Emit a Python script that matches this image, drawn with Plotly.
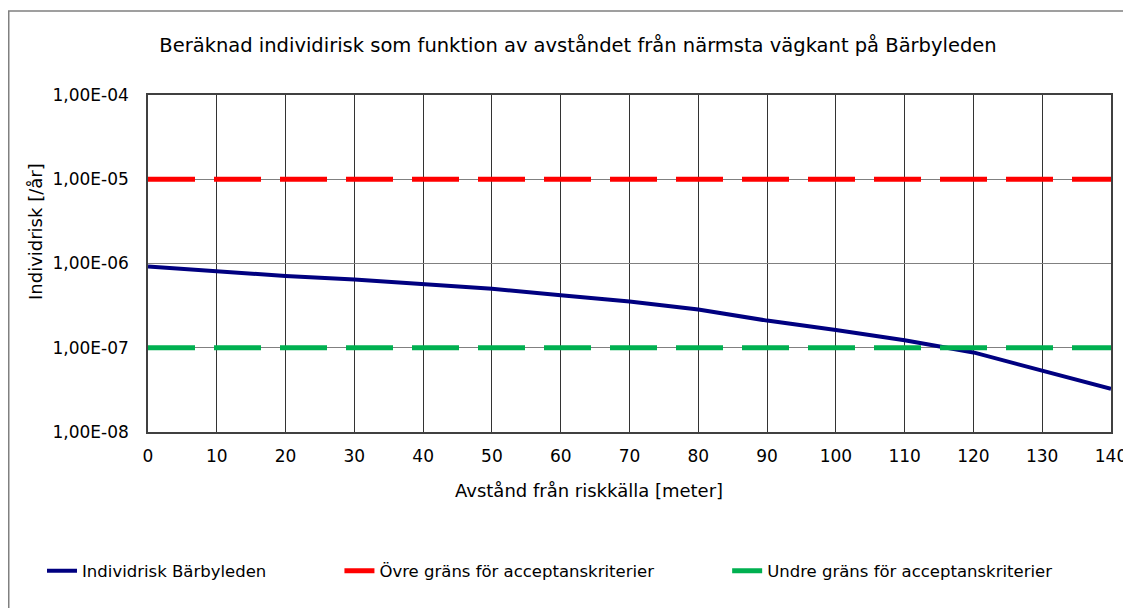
import plotly.graph_objects as go

# Data
distance_m = [0, 10, 20, 30, 40, 50, 60, 70, 80, 90, 100, 110, 120, 130, 140]
risk_barbyleden = [9.2e-7, 8.1e-7, 7.1e-7, 6.45e-7, 5.75e-7, 5.0e-7, 4.2e-7, 3.55e-7,
                   2.85e-7, 2.1e-7, 1.62e-7, 1.23e-7, 8.8e-8, 5.35e-8, 3.25e-8]
upper_limit = 1e-5
lower_limit = 1e-7
y_tickvals = [1e-8, 1e-7, 1e-6, 1e-5, 1e-4]
y_ticktext = ["1,00E-08", "1,00E-07", "1,00E-06", "1,00E-05", "1,00E-04"]
x_ticks = list(range(0, 141, 10))

FONT = "DejaVu Sans"
OFF = 8  # page body margin
W, H = 1131, 608
L, R, T, B = 148 - OFF, 1111 - OFF, 95 - OFF, 432 - OFF

def px(xs):
    return (xs - OFF - L) / (R - L)

def py(ys):
    return (B - (ys - OFF)) / (B - T)

NB = "\u00a0"
DASH = "47px,19px"

fig = go.Figure()
fig.add_trace(go.Scatter(x=distance_m, y=risk_barbyleden, mode="lines",
                         name="Individrisk Bärbyleden" + NB * 13,
                         line=dict(color="#000080", width=4)))
fig.add_trace(go.Scatter(x=distance_m, y=[upper_limit] * len(distance_m), mode="lines",
                         name="Övre gräns för acceptanskriterier" + NB * 13,
                         line=dict(color="#FF0000", width=5, dash=DASH)))
fig.add_trace(go.Scatter(x=distance_m, y=[lower_limit] * len(distance_m), mode="lines",
                         name="Undre gräns för acceptanskriterier",
                         line=dict(color="#00B050", width=5, dash=DASH)))

fig.update_layout(
    width=W, height=H,
    margin=dict(l=L, r=W - R, t=T, b=H - B),
    paper_bgcolor="white", plot_bgcolor="white",
    font=dict(family=FONT, size=15, color="black"),
    title=dict(text="Beräknad individirisk som funktion av avståndet från närmsta vägkant på Bärbyleden",
               x=(578 - OFF) / W, xanchor="center", y=1 - (45 - OFF) / H, yanchor="middle",
               font=dict(family=FONT, size=19.5, color="black")),
    showlegend=True,
    legend=dict(orientation="h", xref="paper", yref="paper",
                x=px(42), xanchor="left", y=py(571), yanchor="middle",
                font=dict(family=FONT, size=16.5), bgcolor="rgba(0,0,0,0)"),
    xaxis=dict(range=[0, 140], tickvals=x_ticks, showgrid=True, gridcolor="#333333",
               gridwidth=1, showline=True, mirror=True, linecolor="#404040", linewidth=1.5,
               zeroline=False, ticks="", ticklabelstandoff=8, tickfont=dict(size=17)),
    yaxis=dict(type="log", range=[-8, -4], tickvals=y_tickvals, ticktext=y_ticktext,
               showgrid=True, gridcolor="#808080", gridwidth=1, showline=True, mirror=True,
               linecolor="#404040", linewidth=1.5, zeroline=False, ticks="",
               ticklabelstandoff=14, tickfont=dict(size=17)),
    annotations=[
        dict(text="Avstånd från riskkälla [meter]", xref="paper", yref="paper",
             x=px(589), y=py(490), showarrow=False, xanchor="center", yanchor="middle",
             font=dict(family=FONT, size=18)),
        dict(text="Individrisk [/år]", xref="paper", yref="paper",
             x=px(35), y=py(232), showarrow=False, xanchor="center", yanchor="middle",
             textangle=-90, font=dict(family=FONT, size=18)),
    ],
    shapes=[
        dict(type="rect", xref="paper", yref="paper",
             x0=px(8.75), x1=px(1200), y0=py(11), y1=py(700),
             line=dict(color="#808080", width=1.5), fillcolor="rgba(0,0,0,0)", layer="below"),
    ],
)

fig.write_html("out.html")
